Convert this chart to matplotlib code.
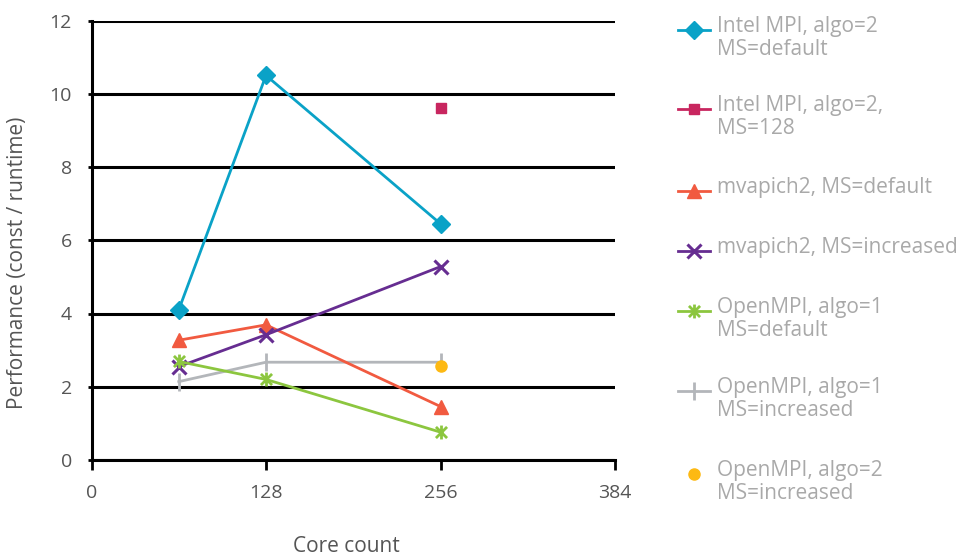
import matplotlib
matplotlib.use("Agg")
import matplotlib.pyplot as plt
from matplotlib.lines import Line2D
from matplotlib.path import Path

plt.rcParams['font.family'] = ['Open Sans', 'DejaVu Sans']

cores = [64, 128, 256]
intel_default = [4.1, 10.5, 6.45]
intel_ms128_x = [256]
intel_ms128 = [9.6]
mvapich_default = [3.27, 3.69, 1.46]
mvapich_increased = [2.55, 3.42, 5.28]
openmpi1_default = [2.69, 2.2, 0.76]
openmpi1_increased = [2.14, 2.67, 2.67]
openmpi2_increased_x = [256]
openmpi2_increased = [2.57]

labels = ["Intel MPI, algo=2\nMS=default",
          "Intel MPI, algo=2,\nMS=128",
          "mvapich2, MS=default",
          "mvapich2, MS=increased",
          "OpenMPI, algo=1\nMS=default",
          "OpenMPI, algo=1\nMS=increased",
          "OpenMPI, algo=2\nMS=increased"]

xticks = [0, 128, 256, 384]
yticks = [0, 2, 4, 6, 8, 10, 12]

# asterisk marker: vertical bar plus an X
asterisk = Path([(0, -1), (0, 1), (-0.8, -0.8), (0.8, 0.8), (-0.8, 0.8), (0.8, -0.8)],
                [Path.MOVETO, Path.LINETO, Path.MOVETO, Path.LINETO, Path.MOVETO, Path.LINETO])

C_INTEL = '#0aa2c7'
C_MAG = '#c8265f'
C_ORANGE = '#f15a40'
C_PURPLE = '#662d91'
C_GREEN = '#8cc63f'
C_GRAY = '#b3b6ba'
C_YELLOW = '#fdb913'
C_TEXT = '#555555'
C_LEG = '#a9a9a9'

styles = [
    dict(color=C_INTEL, marker='D', markersize=9, lw=2),
    dict(color=C_MAG, marker='s', markersize=7, lw=2),
    dict(color=C_ORANGE, marker='^', markersize=10, lw=2),
    dict(color=C_PURPLE, marker='x', markersize=10, mew=2.2, lw=2),
    dict(color=C_GREEN, marker=asterisk, markersize=10, mew=2, lw=2),
    dict(color=C_GRAY, marker='|', markersize=13, mew=2, lw=2),
    dict(color=C_YELLOW, marker='o', markersize=8, lw=0),
]

fig = plt.figure(figsize=(9.59, 5.57), dpi=100)
W, H = 959, 557
AX_L, AX_R, AX_T, AX_B = 91.5, 615, 20.5, 460
ax = fig.add_axes([AX_L / W, 1 - AX_B / H, (AX_R - AX_L) / W, (AX_B - AX_T) / H])

ax.plot(cores, intel_default, **styles[0], zorder=5)
ax.plot(intel_ms128_x, intel_ms128, linestyle='none', color=C_MAG, marker='s', markersize=7, zorder=5)
ax.plot(cores, mvapich_default, **styles[2], zorder=4)
ax.plot(cores, mvapich_increased, **styles[3], zorder=4)
ax.plot(cores, openmpi1_default, **styles[4], zorder=4)
ax.plot(cores, openmpi1_increased, **styles[5], zorder=3)
ax.plot(openmpi2_increased_x, openmpi2_increased, linestyle='none', color=C_YELLOW,
        marker='o', markersize=8, zorder=5)

ax.set_xlim(0, 384)
ax.set_ylim(0, 12)
ax.set_xticks(xticks)
ax.set_yticks(yticks)
ax.yaxis.grid(True, color='black', lw=2.2)
ax.set_axisbelow(True)
for s in ['top', 'right']:
    ax.spines[s].set_visible(False)
for s in ['left', 'bottom']:
    ax.spines[s].set_linewidth(2.2)
    ax.spines[s].set_color('black')
ax.tick_params(axis='y', length=3, width=2, colors='black', labelcolor=C_TEXT,
               labelsize=14, pad=11)
ax.tick_params(axis='x', length=7, width=2, colors='black', labelcolor=C_TEXT,
               labelsize=14, pad=10)

ax.set_xlabel("Core count", fontsize=15, color=C_TEXT)
ax.xaxis.label.set_va('center')
ax.xaxis.set_label_coords((346 - AX_L) / (AX_R - AX_L), (AX_B - 547) / (AX_B - AX_T))
ax.set_ylabel("Performance (const / runtime)", fontsize=15, color=C_TEXT)
ax.yaxis.label.set_va('center')
ax.yaxis.set_label_coords((18 - AX_L) / (AX_R - AX_L), (AX_B - 263) / (AX_B - AX_T))

# legend drawn as a column of handles and labels
entry_y = [30, 109, 191, 251, 311, 391, 474]
for lab, st, y in zip(labels, styles, entry_y):
    yf = 1 - y / H
    lw = st.get('lw', 2)
    kw = {k: v for k, v in st.items() if k != 'lw'}
    if lw > 0:
        fig.add_artist(Line2D([678 / W, 710 / W], [yf, yf], lw=lw, transform=fig.transFigure, color=st['color']))
    fig.add_artist(Line2D([694 / W], [yf], linestyle='none', transform=fig.transFigure, **kw))
    fig.text(717 / W, yf + 14 / H, lab, fontsize=15, color=C_LEG, va='top', ha='left',
             linespacing=1.15, transform=fig.transFigure)

fig.savefig("out.png", dpi=100)
